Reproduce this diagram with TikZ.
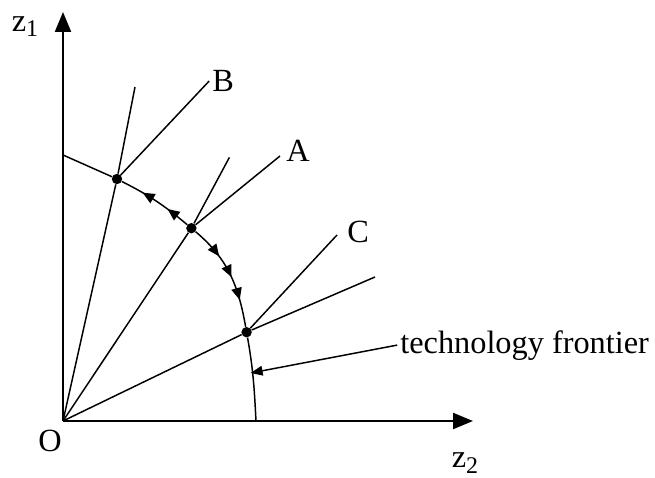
\documentclass[tikz,border=0pt]{standalone}
\usepackage{fontspec}
\setmainfont{Liberation Serif}
\usetikzlibrary{arrows.meta, positioning, decorations.markings}
\newcommand{\zsub}[1]{z\raisebox{-0.35ex}{\fontsize{17}{20}\selectfont #1}}
\tikzstyle{axis}    = [line width=1.5pt, -{Triangle[length=0.5cm, width=0.4cm]}]
\tikzstyle{ray}     = [line width=1.05pt]
\tikzstyle{spot}    = [circle, fill=black, inner sep=0pt, minimum size=0.26cm]
\tikzstyle{lbl}     = [inner sep=2pt, font=\fontsize{23}{27}\selectfont]
\tikzstyle{pointer} = [line width=1.05pt, -{Triangle[length=0.3cm, width=0.24cm]}]
\tikzstyle{toB}     = [decoration={markings,
                         mark=at position 0.32 with {\arrow{Triangle[length=0.3cm, width=0.26cm]}},
                         mark=at position 0.70 with {\arrow{Triangle[length=0.3cm, width=0.26cm]}}},
                       postaction={decorate}]
\tikzstyle{toC}     = [decoration={markings,
                         mark=at position 0.31 with {\arrow{Triangle[length=0.3cm, width=0.26cm]}},
                         mark=at position 0.53 with {\arrow{Triangle[length=0.3cm, width=0.26cm]}},
                         mark=at position 0.75 with {\arrow{Triangle[length=0.3cm, width=0.26cm]}}},
                       postaction={decorate}]

\begin{document}
\begin{tikzpicture}
  \useasboundingbox (-1.575,-1.4) rectangle (14.8,10.525);

  % Axes
  \coordinate (O) at (0,0);
  \coordinate (ytip) at (0,10.225);
  \coordinate (xtip) at (10.25,0);
  \draw[axis] (O) -- (ytip);
  \draw[axis] (O) -- (xtip);
  \node[lbl] (labz1) at (-0.95,9.87) {\zsub{1}};
  \node[lbl] (labz2) at (10.05,-1.05) {\zsub{2}};
  \node[lbl] (labO) at (-0.325,-0.5) {O};

  % Points on the frontier
  \node[spot] (Bp) at (1.35,6.05) {};
  \node[spot] (Ap) at (3.21,4.82) {};
  \node[spot] (Cp) at (4.59,2.22) {};
  \coordinate (fy) at (0,6.65);
  \coordinate (fx) at (4.825,0);

  % Rays
  \coordinate (r1) at (1.8,8.35);
  \coordinate (r2) at (4.16,6.59);
  \coordinate (r3) at (7.8,3.6);
  \draw[ray] (O) -- (Bp) -- (r1);
  \draw[ray] (O) -- (Ap) -- (r2);
  \draw[ray] (O) -- (Cp) -- (r3);

  % Frontier
  \draw[ray] (fy) -- (Bp);
  \draw[ray, toB] (Ap) to[out=140, in=-27] (Bp);
  \draw[ray, toC] (Ap) to[out=-40, in=100] (Cp);
  \draw[ray] (Cp) to[out=-80, in=93] (fx);

  % Labels
  \node[lbl, anchor=west] (labB) at (3.655,8.5) {B};
  \coordinate (aEnd) at (5.425,6.625);
  \node[lbl, anchor=west] (labA) at (5.505,6.75) {A};
  \coordinate (cEnd) at (6.85,4.65);
  \node[lbl, anchor=west] (labC) at (7.03,4.725) {C};
  \draw[ray] (Bp) -- (labB.west);
  \draw[ray] (Ap) -- (aEnd);
  \draw[ray] (Cp) -- (cEnd);

  \coordinate (fr) at (4.69,1.2);
  \node[lbl, anchor=base west] (tech) at (8.355,1.7) {technology frontier};
  \draw[pointer] (tech.west) -- (fr);
\end{tikzpicture}
\end{document}
